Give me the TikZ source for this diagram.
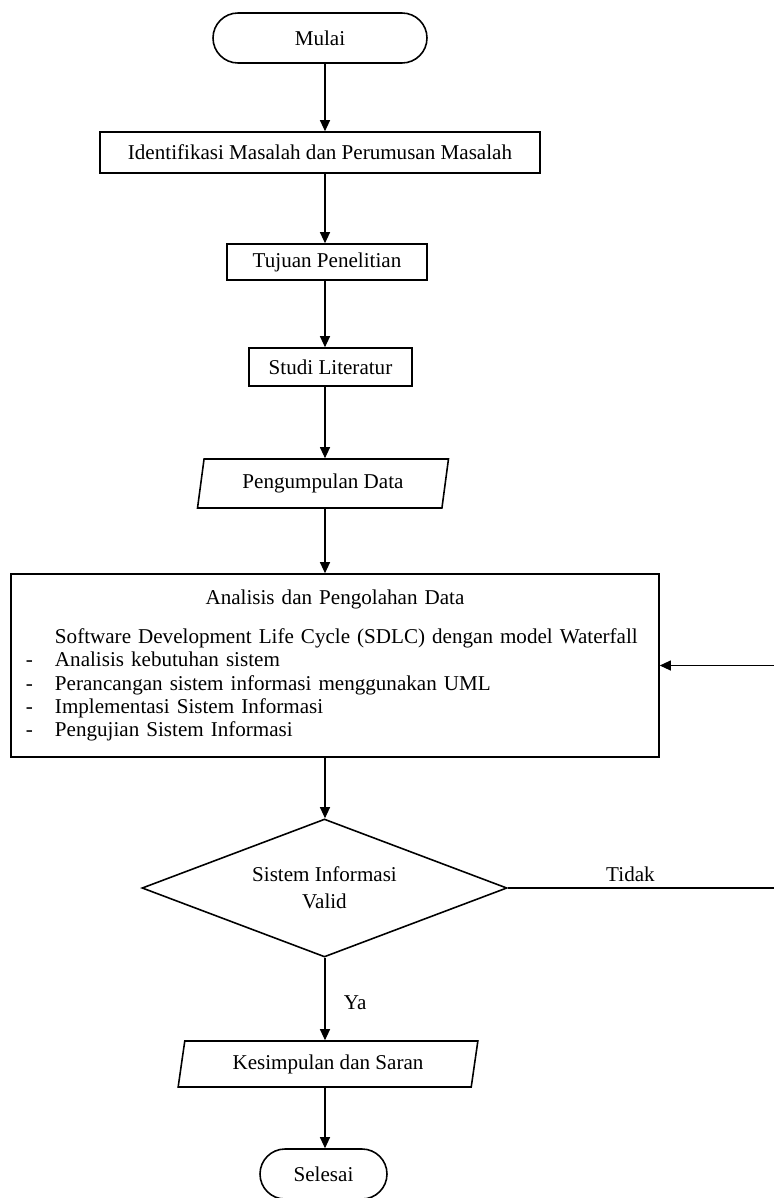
\documentclass[tikz,border=0pt]{standalone}
\usepackage{fontspec}
\setmainfont{Liberation Serif}
\usepackage{tikz}
\usetikzlibrary{arrows.meta,shapes.geometric}

\begin{document}
\begin{tikzpicture}[
  font=\fontsize{12}{13.2}\selectfont,
  term/.style={draw,line width=0.9pt,rounded corners=0.5cm,minimum height=1cm},
  proc/.style={draw,line width=0.9pt,inner sep=0pt,align=center},
  io/.style={draw,line width=0.9pt,trapezium,trapezium left angle=77,trapezium right angle=103,
             trapezium stretches=true,inner sep=0pt},
  decision/.style={draw,line width=0.9pt,diamond,aspect=2.64,inner sep=0pt,align=center},
  flow/.style={-{Triangle[length=2.2mm,width=2mm]},line width=0.6pt},
  link/.style={line width=0.6pt}]
  \useasboundingbox (0,0) rectangle (15.48,-23.96);
  \coordinate (ax) at (6.5,0);
  \node[term,minimum width=4.28cm] (mulai) at (6.40,-0.76) {Mulai};
  \node[proc,minimum width=8.8cm,minimum height=0.82cm] (idf) at (6.40,-3.05)
       {Identifikasi Masalah dan Perumusan Masalah};
  \node[proc,minimum width=4cm,minimum height=0.72cm] (tujuan) at (6.54,-5.24) {Tujuan Penelitian};
  \node[proc,minimum width=3.26cm,minimum height=0.76cm] (studi) at (6.61,-7.34) {Studi Literatur};
  \node[io,minimum width=5.04cm,minimum height=0.98cm] (kumpul) at (6.46,-9.67) {Pengumpulan Data};
  \node[draw,line width=0.9pt,inner xsep=0.3cm,text width=12.36cm,minimum height=3.66cm,align=left]
       (olah) at (6.70,-13.31)
       {\noindent\makebox[12.36cm]{Analisis dan Pengolahan Data}\\[9pt]
        \hspace*{0.58cm}Software Development Life Cycle (SDLC) dengan model Waterfall\\
        \makebox[0.58cm][l]{-}Analisis kebutuhan sistem\\
        \makebox[0.58cm][l]{-}Perancangan sistem informasi menggunakan UML\\
        \makebox[0.58cm][l]{-}Implementasi Sistem Informasi\\
        \makebox[0.58cm][l]{-}Pengujian Sistem Informasi};
  \node[decision,minimum width=7.3cm,minimum height=2.76cm] (valid) at (6.49,-17.76)
       {Sistem Informasi\\[2pt]Valid};
  \node[io,minimum width=6cm,minimum height=0.92cm] (simpul) at (6.56,-21.28) {Kesimpulan dan Saran};
  \node[term,minimum width=2.54cm] (selesai) at (6.47,-23.48) {Selesai};
  % alur utama
  \draw[flow] (mulai.south -| ax) -- (idf.north -| ax);
  \draw[flow] (idf.south -| ax) -- (tujuan.north -| ax);
  \draw[flow] (tujuan.south -| ax) -- (studi.north -| ax);
  \draw[flow] (studi.south -| ax) -- (kumpul.north -| ax);
  \draw[flow] (kumpul.south -| ax) -- (olah.north -| ax);
  \draw[flow] (olah.south -| ax) -- (valid.north -| ax);
  \draw[flow] (valid.south -| ax) -- node[pos=0.55,right=0.25cm] (ya) {Ya} (simpul.north -| ax);
  \draw[flow] (simpul.south -| ax) -- (selesai.north -| ax);
  % kembali jika tidak valid
  \coordinate (ret) at (15.56,-17.76);
  \draw[flow] (valid.east) -- node[pos=0.454,above] (tidak) {Tidak} (ret) |- (olah.east);
\end{tikzpicture}
\end{document}
